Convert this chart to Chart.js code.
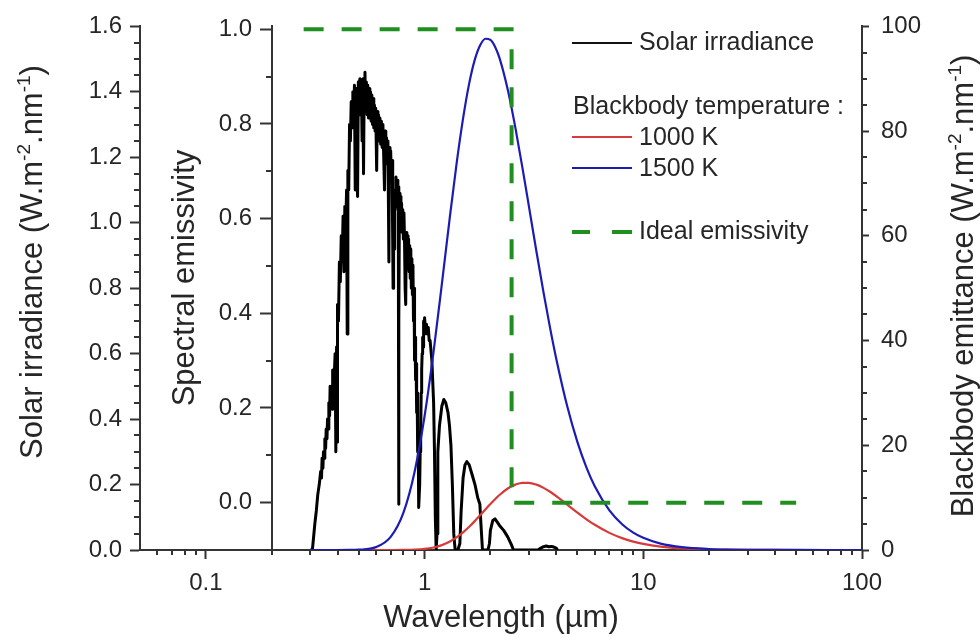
<!DOCTYPE html>
<html>
<head>
<meta charset="utf-8">
<title>Solar irradiance, blackbody emittance and ideal emissivity</title>
<script src="https://cdn.jsdelivr.net/npm/chart.js@4.4.1/dist/chart.umd.min.js"></script>
<style>
  html, body { margin: 0; padding: 0; background: #ffffff; }
  #chart { display: block; }
</style>
</head>
<body>
<canvas id="chart" width="980" height="644"></canvas>
<script>
// Values.

// Solar irradiance spectrum: [wavelength (µm), irradiance (W.m-2.nm-1)]
const solarSpectrum = [
  [0.300, 0.00], [0.307, 0.00], [0.315, 0.08], [0.320, 0.12], [0.325, 0.17],
  [0.330, 0.20], [0.335, 0.24], [0.338, 0.22], [0.340, 0.28], [0.343, 0.25],
  [0.345, 0.30], [0.348, 0.28], [0.350, 0.34], [0.353, 0.31], [0.355, 0.37],
  [0.358, 0.34], [0.360, 0.40], [0.363, 0.37], [0.365, 0.45], [0.368, 0.41],
  [0.370, 0.50], [0.373, 0.44], [0.375, 0.47], [0.378, 0.43], [0.380, 0.55],
  [0.383, 0.49], [0.385, 0.52], [0.388, 0.56], [0.390, 0.60], [0.393, 0.30],
  [0.396, 0.62], [0.398, 0.33], [0.400, 0.75], [0.404, 0.70], [0.408, 0.88],
  [0.412, 0.82], [0.416, 0.96], [0.420, 0.88], [0.424, 1.02], [0.428, 0.85],
  [0.432, 1.05], [0.436, 0.98], [0.440, 1.10], [0.443, 0.66], [0.446, 1.16],
  [0.450, 1.10], [0.454, 1.30], [0.458, 1.25], [0.462, 1.37], [0.466, 1.29],
  [0.470, 1.40], [0.474, 1.31], [0.478, 1.42], [0.482, 1.10], [0.486, 1.41],
  [0.490, 1.32], [0.494, 1.08], [0.498, 1.43], [0.502, 1.33], [0.506, 1.44],
  [0.510, 1.34], [0.514, 1.43], [0.518, 1.25], [0.522, 1.44], [0.526, 1.15],
  [0.530, 1.44], [0.534, 1.46], [0.538, 1.34], [0.542, 1.43], [0.546, 1.33],
  [0.550, 1.42], [0.554, 1.32], [0.558, 1.41], [0.562, 1.32], [0.566, 1.40],
  [0.570, 1.31], [0.574, 1.39], [0.578, 1.30], [0.582, 1.38], [0.586, 1.29],
  [0.590, 1.36], [0.594, 1.28], [0.598, 1.35], [0.604, 1.16], [0.608, 1.34],
  [0.612, 1.26], [0.616, 1.33], [0.620, 1.25], [0.625, 1.32], [0.630, 1.24],
  [0.635, 1.31], [0.640, 1.23], [0.645, 1.30], [0.650, 1.21], [0.656, 1.10],
  [0.660, 1.28], [0.665, 1.20], [0.670, 1.26], [0.675, 1.18], [0.680, 1.25],
  [0.687, 0.88], [0.690, 1.23], [0.695, 1.15], [0.700, 1.22], [0.705, 1.13],
  [0.710, 1.19], [0.715, 0.95], [0.718, 0.80], [0.722, 1.00], [0.726, 0.92],
  [0.730, 1.10], [0.735, 1.05], [0.740, 1.14], [0.745, 1.06], [0.750, 1.13],
  [0.755, 1.04], [0.758, 1.11], [0.761, 0.14], [0.764, 0.70], [0.768, 1.09],
  [0.772, 1.01], [0.776, 1.08], [0.780, 0.99], [0.785, 1.06], [0.790, 0.97],
  [0.795, 1.04], [0.800, 0.95], [0.805, 1.03], [0.810, 0.94], [0.815, 0.80],
  [0.820, 0.75], [0.825, 0.97], [0.830, 0.88], [0.835, 0.96], [0.840, 0.86],
  [0.845, 0.95], [0.850, 0.85], [0.855, 0.93], [0.860, 0.83], [0.865, 0.92],
  [0.870, 0.80], [0.875, 0.89], [0.880, 0.78], [0.885, 0.87], [0.890, 0.70],
  [0.895, 0.80], [0.900, 0.58], [0.905, 0.65], [0.910, 0.52], [0.915, 0.57],
  [0.920, 0.42], [0.925, 0.48], [0.930, 0.30], [0.935, 0.36], [0.940, 0.13],
  [0.950, 0.20], [0.955, 0.30], [0.960, 0.35], [0.965, 0.48], [0.970, 0.55],
  [0.975, 0.60], [0.980, 0.65], [0.985, 0.62], [0.990, 0.70], [0.995, 0.66],
  [1.000, 0.71], [1.010, 0.67], [1.020, 0.69], [1.030, 0.66], [1.040, 0.68],
  [1.050, 0.64], [1.060, 0.64], [1.080, 0.58], [1.100, 0.45], [1.110, 0.30],
  [1.120, 0.10], [1.130, 0.00], [1.140, 0.05], [1.150, 0.30], [1.170, 0.38],
  [1.200, 0.44], [1.225, 0.46], [1.250, 0.45], [1.280, 0.42], [1.300, 0.38],
  [1.320, 0.32], [1.340, 0.20], [1.360, 0.05], [1.380, 0.00], [1.420, 0.00],
  [1.450, 0.02], [1.470, 0.12], [1.500, 0.22], [1.530, 0.26], [1.560, 0.27],
  [1.600, 0.26], [1.650, 0.23], [1.700, 0.20], [1.750, 0.16], [1.790, 0.14],
  [1.810, 0.08], [1.840, 0.00], [1.950, 0.00], [1.980, 0.02], [2.000, 0.06],
  [2.050, 0.09], [2.100, 0.095], [2.150, 0.085], [2.200, 0.075], [2.300, 0.06],
  [2.400, 0.04], [2.500, 0.015], [2.550, 0.00], [3.300, 0.00], [3.400, 0.006],
  [3.500, 0.010], [3.600, 0.012], [3.700, 0.010], [3.800, 0.011], [3.900, 0.009],
  [4.000, 0.006], [4.050, 0.000]
];

// Blackbody emittance (W.m-2.nm-1) at 1000 K and 1500 K
const bbWavelength = [
  0.3, 0.4, 0.45, 0.5, 0.6, 0.7, 0.8, 0.9, 1.0,
  1.1, 1.2, 1.3, 1.4, 1.5, 1.6, 1.7, 1.8, 1.9, 2.0, 2.1, 2.2,
  2.4, 2.5, 2.6, 2.8, 3.0, 3.25, 3.5, 3.75, 4.0,
  4.5, 5.0, 5.5, 6.0, 7.0, 8.0, 9.0, 10,
  12, 15, 20, 25, 30, 40, 50, 70, 100
];
const bb1500 = [
  0, 0.0014, 0.011, 0.056, 0.55, 2.50, 7.09, 14.90, 25.55,
  37.94, 50.82, 63.01, 73.71, 82.43, 89.12, 93.74, 96.50, 97.64, 97.42, 96.13, 93.98,
  87.97, 84.42, 80.72, 73.08, 65.64, 56.91, 49.15, 42.37, 36.54,
  27.30, 20.61, 15.75, 12.19, 7.58, 4.93, 3.33, 2.33,
  1.23, 0.55, 0.19, 0.082, 0.041, 0.013, 0.0057, 0.0015, 0.0004
];
const bb1000 = [
  0, 0, 0, 0, 0.0002, 0.0026, 0.018, 0.072, 0.211,
  0.485, 0.933, 1.573, 2.394, 3.364, 4.438, 5.563, 6.693, 7.777, 8.789, 9.707, 10.50,
  11.74, 12.17, 12.49, 12.83, 12.83, 12.48, 11.87, 11.12, 10.30,
  8.64, 7.14, 5.86, 4.81, 3.27, 2.27, 1.61, 1.16,
  0.649, 0.306, 0.111, 0.049, 0.025, 0.0084, 0.0036, 0.001, 0.0002
];

// Ideal (step) spectral emissivity
const emisWavelength = [0.28, 2.5, 2.5, 50];
const emisValue = [1, 1, 0, 0];

// Tick values of the four axes
const xMajorTicks = [0.1, 1, 10, 100];
const xMinorTicks = [0.06, 0.07, 0.08, 0.09,
  0.2, 0.3, 0.4, 0.5, 0.6, 0.7, 0.8, 0.9,
  2, 3, 4, 5, 6, 7, 8, 9,
  20, 30, 40, 50, 60, 70, 80, 90];
const solarMajorTicks = [0, 0.2, 0.4, 0.6, 0.8, 1.0, 1.2, 1.4, 1.6];
const solarMinorTicks = [0.05, 0.1, 0.15, 0.25, 0.3, 0.35, 0.45, 0.5, 0.55, 0.65, 0.7, 0.75,
  0.85, 0.9, 0.95, 1.05, 1.1, 1.15, 1.25, 1.3, 1.35, 1.45, 1.5, 1.55];
const emisMajorTicks = [0, 0.2, 0.4, 0.6, 0.8, 1.0];
const emisMinorTicks = [0.1, 0.3, 0.5, 0.7, 0.9];
const bbMajorTicks = [0, 20, 40, 60, 80, 100];
const bbMinorTicks = [5, 10, 15, 25, 30, 35, 45, 50, 55, 65, 70, 75, 85, 90, 95];
const emisAxisAt = 0.2; // wavelength where the emissivity axis stands

const FONT = "'Liberation Sans', Arial, Helvetica, sans-serif";
const TEXT = '#262626';
const AXIS = '#333333';
const RED = '#d83a3a';
const BLUE = '#1c1cb4';
const GREEN = '#1f8f1f';
const TICK_SIZE = 24;

const toPoints = (xs, ys) => xs.map((v, i) => ({ x: v, y: ys[i] }));
const setTicks = (values) => (scale) => { scale.ticks = values.map(v => ({ value: v })); };

// Minor tick marks (Chart.js only draws one tick length per axis).
function drawMinorTicks(chart) {
  const { ctx } = chart;
  const { x, ySolar, yEmis, yBB } = chart.scales;
  const left = Math.round(x.left);
  const right = Math.round(x.right);
  const bottom = Math.round(x.top);
  const emisX = Math.round(x.getPixelForValue(emisAxisAt));
  ctx.save();
  ctx.strokeStyle = AXIS;
  ctx.lineWidth = 2;
  ctx.beginPath();
  xMinorTicks.forEach(v => {
    const px = Math.round(x.getPixelForValue(v));
    ctx.moveTo(px, bottom);
    ctx.lineTo(px, bottom + 5);
  });
  solarMinorTicks.forEach(v => {
    const py = Math.round(ySolar.getPixelForValue(v));
    ctx.moveTo(left, py);
    ctx.lineTo(left - 6, py);
  });
  emisMinorTicks.forEach(v => {
    const py = Math.round(yEmis.getPixelForValue(v));
    ctx.moveTo(emisX, py);
    ctx.lineTo(emisX - 6, py);
  });
  bbMinorTicks.forEach(v => {
    const py = Math.round(yBB.getPixelForValue(v));
    ctx.moveTo(right, py);
    ctx.lineTo(right + 5, py);
  });
  ctx.stroke();
  ctx.restore();
}

// Labels of the emissivity axis, placed left of its tick marks
// (Chart.js puts labels of a value-positioned axis on the axis line itself).
function drawEmisLabels(chart) {
  const { ctx } = chart;
  const { x, yEmis } = chart.scales;
  const emisX = Math.round(x.getPixelForValue(emisAxisAt));
  ctx.save();
  ctx.font = TICK_SIZE + 'px ' + FONT;
  ctx.fillStyle = TEXT;
  ctx.textAlign = 'right';
  ctx.textBaseline = 'middle';
  emisMajorTicks.forEach(v => {
    ctx.fillText(v.toFixed(1), emisX - 11 - 9, yEmis.getPixelForValue(v));
  });
  ctx.restore();
}

// Rotated axis title with superscripts, reading bottom to top.
function drawVerticalTitle(ctx, parts, baseX, centerY, size) {
  const mainFont = size + 'px ' + FONT;
  const supFont = Math.round(size * 0.6) + 'px ' + FONT;
  let total = 0;
  parts.forEach(p => {
    ctx.font = p.sup ? supFont : mainFont;
    p.w = ctx.measureText(p.t).width;
    total += p.w;
  });
  ctx.save();
  ctx.translate(baseX, centerY);
  ctx.rotate(-Math.PI / 2);
  ctx.fillStyle = TEXT;
  ctx.textAlign = 'left';
  ctx.textBaseline = 'alphabetic';
  let pos = -total / 2;
  parts.forEach(p => {
    ctx.font = p.sup ? supFont : mainFont;
    ctx.fillText(p.t, pos, p.sup ? -size * 0.4 : 0);
    pos += p.w;
  });
  ctx.restore();
}

const unitParts = [
  { t: ' (W.m' }, { t: '-2', sup: true }, { t: '.nm' }, { t: '-1', sup: true }, { t: ')' }
];

function drawLegend(ctx) {
  const x0 = 572, x1 = 632, tx = 639;
  ctx.save();
  ctx.font = '25px ' + FONT;
  ctx.fillStyle = TEXT;
  ctx.textBaseline = 'middle';
  ctx.textAlign = 'left';
  ctx.lineCap = 'butt';

  ctx.lineWidth = 2;
  ctx.strokeStyle = '#111111';
  ctx.beginPath(); ctx.moveTo(x0, 43); ctx.lineTo(x1, 43); ctx.stroke();
  ctx.fillText('Solar irradiance', tx, 43);

  ctx.fillText('Blackbody temperature :', 573, 107);

  ctx.strokeStyle = RED;
  ctx.beginPath(); ctx.moveTo(x0, 137); ctx.lineTo(x1, 137); ctx.stroke();
  ctx.fillText('1000 K', tx, 138);

  ctx.strokeStyle = BLUE;
  ctx.beginPath(); ctx.moveTo(x0, 168); ctx.lineTo(x1, 168); ctx.stroke();
  ctx.fillText('1500 K', tx, 169);

  ctx.strokeStyle = GREEN;
  ctx.lineWidth = 4;
  ctx.beginPath();
  ctx.moveTo(x0, 232); ctx.lineTo(x0 + 18, 232);
  ctx.moveTo(x1 - 20, 232); ctx.lineTo(x1, 232);
  ctx.stroke();
  ctx.fillText('Ideal emissivity', tx, 232);
  ctx.restore();
}

const decorations = {
  id: 'decorations',
  afterDraw(chart) {
    const { ctx } = chart;
    drawMinorTicks(chart);
    drawEmisLabels(chart);
    drawVerticalTitle(ctx, [{ t: 'Solar irradiance' }].concat(unitParts.map(p => ({ ...p }))), 42, 262, 31);
    drawVerticalTitle(ctx, [{ t: 'Spectral emissivity' }], 194, 278, 31);
    drawVerticalTitle(ctx, [{ t: 'Blackbody emittance' }].concat(unitParts.map(p => ({ ...p }))), 973, 286, 31);
    drawLegend(ctx);
  }
};

const tickFont = { family: FONT, size: TICK_SIZE };
const axisGrid = (len) => ({
  display: true,
  drawOnChartArea: false,
  drawTicks: true,
  tickLength: len,
  tickWidth: 2,
  tickColor: AXIS
});
const axisBorder = { display: true, color: AXIS, width: 2 };

new Chart(document.getElementById('chart'), {
  type: 'line',
  data: {
    datasets: [
      {
        label: 'Ideal emissivity',
        data: toPoints(emisWavelength, emisValue),
        yAxisID: 'yEmis',
        borderColor: GREEN,
        borderWidth: 4,
        borderDash: [20, 18],
        borderCapStyle: 'butt',
        tension: 0,
        order: 0
      },
      {
        label: '1500 K',
        data: toPoints(bbWavelength, bb1500),
        yAxisID: 'yBB',
        borderColor: BLUE,
        borderWidth: 2.2,
        cubicInterpolationMode: 'monotone',
        order: 1
      },
      {
        label: '1000 K',
        data: toPoints(bbWavelength, bb1000),
        yAxisID: 'yBB',
        borderColor: RED,
        borderWidth: 2.2,
        cubicInterpolationMode: 'monotone',
        order: 2
      },
      {
        label: 'Solar irradiance',
        data: solarSpectrum.map(([w, v]) => ({ x: w, y: v })),
        yAxisID: 'ySolar',
        borderColor: '#000000',
        borderWidth: 3,
        borderJoinStyle: 'round',
        tension: 0,
        order: 3
      }
    ]
  },
  options: {
    responsive: false,
    animation: false,
    devicePixelRatio: 1,
    layout: { padding: { top: 20, left: 0, right: 0, bottom: 0 } },
    elements: { point: { radius: 0, hoverRadius: 0 }, line: { fill: false } },
    plugins: {
      legend: { display: false },
      tooltip: { enabled: false }
    },
    events: [],
    scales: {
      x: {
        type: 'logarithmic',
        position: 'bottom',
        min: 0.05,
        max: 100,
        afterBuildTicks: setTicks(xMajorTicks),
        afterFit: (s) => { s.height = 94; },
        grid: axisGrid(9),
        border: axisBorder,
        ticks: {
          font: tickFont,
          color: TEXT,
          padding: 10,
          autoSkip: false,
          maxRotation: 0,
          callback: (v) => String(v)
        },
        title: {
          display: true,
          text: 'Wavelength (µm)',
          color: TEXT,
          font: { family: FONT, size: 31 },
          padding: { top: 0, bottom: 7 }
        }
      },
      ySolar: {
        type: 'linear',
        position: 'left',
        min: 0,
        max: 1.6,
        afterBuildTicks: setTicks(solarMajorTicks),
        afterFit: (s) => { s.width = 140; },
        grid: axisGrid(10),
        border: axisBorder,
        ticks: { font: tickFont, color: TEXT, padding: 8, callback: (v) => v.toFixed(1) }
      },
      yEmis: {
        type: 'linear',
        position: { x: emisAxisAt },
        min: -0.1,
        max: 1.006,
        afterBuildTicks: setTicks(emisMajorTicks),
        grid: axisGrid(11),
        border: axisBorder,
        ticks: { display: false }
      },
      yBB: {
        type: 'linear',
        position: 'right',
        min: 0,
        max: 100,
        afterBuildTicks: setTicks(bbMajorTicks),
        afterFit: (s) => { s.width = 118; },
        grid: axisGrid(7),
        border: axisBorder,
        ticks: { font: tickFont, color: TEXT, padding: 12, callback: (v) => String(v) }
      }
    }
  },
  plugins: [decorations]
});
</script>
</body>
</html>
